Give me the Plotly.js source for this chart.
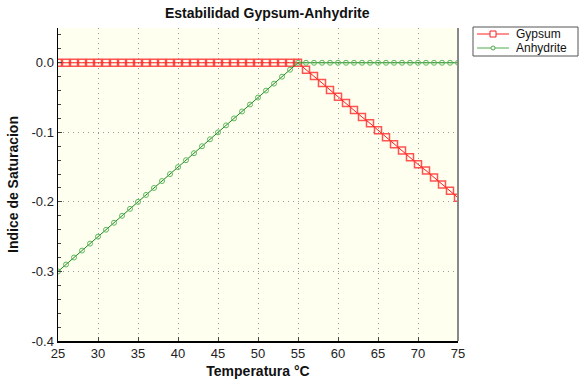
<!DOCTYPE html>
<html><head><meta charset="utf-8">
<script src="https://cdn.plot.ly/plotly-3.0.1.min.js"></script>
<style>html,body{margin:0;padding:0;background:#fff}#chart{width:581px;height:387px}</style>
</head><body><div id="chart"></div>
<script>
const temperatura = [25,26,27,28,29,30,31,32,33,34,35,36,37,38,39,40,41,42,43,44,45,46,47,48,49,50,51,52,53,54,55,56,57,58,59,60,61,62,63,64,65,66,67,68,69,70,71,72,73,74,75];
const gypsum = [0,0,0,0,0,0,0,0,0,0,0,0,0,0,0,0,0,0,0,0,0,0,0,0,0,0,0,0,0,0,0,
  -0.010,-0.019,-0.029,-0.039,-0.049,-0.058,-0.068,-0.078,-0.087,-0.097,-0.107,-0.117,-0.126,-0.136,-0.146,-0.155,-0.165,-0.175,-0.184,-0.194];
const anhydrite = [-0.300,-0.290,-0.280,-0.270,-0.260,-0.250,-0.240,-0.230,-0.220,-0.210,-0.200,-0.190,-0.180,-0.170,-0.160,-0.150,-0.140,-0.130,-0.120,-0.110,-0.100,-0.090,-0.080,-0.070,-0.060,-0.050,-0.040,-0.030,-0.020,-0.010,0,
  0,0,0,0,0,0,0,0,0,0,0,0,0,0,0,0,0,0,0,0];
const xTicks = [25,30,35,40,45,50,55,60,65,70,75];
const yTicks = [0,-0.1,-0.2,-0.3,-0.4];
const seriesNames = ['Gypsum','Anhydrite'];
const lineColors = ['#ff2020','#4caf4c'];

const font = 'Liberation Sans, Arial, sans-serif';
const traces = [
  {x: temperatura, y: gypsum, name: seriesNames[0], mode: 'lines+markers',
   line: {color: lineColors[0], width: 1},
   marker: {symbol: 'square-open', size: 7, color: 'rgba(255,40,40,0.8)', line: {width: 1.5}}},
  {x: temperatura, y: anhydrite, name: seriesNames[1], mode: 'lines+markers',
   line: {color: '#1a8a1a', width: 1},
   marker: {symbol: 'circle-open', size: 5, color: '#5cb85c', line: {width: 1}}}
];

// legend drawn in paper coordinates (plot area: 400 x 313 px, origin at 58,341)
const px = v => (v - 58) / 400, py = v => (341 - v) / 313;
const shapes = [
  {type: 'line', xref: 'paper', yref: 'paper', x0: 1, x1: 1, y0: 0, y1: 1, line: {color: '#888', width: 2}},
  {type: 'rect', xref: 'paper', yref: 'paper', x0: px(473), x1: px(578), y0: py(56), y1: py(27),
   line: {color: '#555', width: 1}, fillcolor: '#fff'}
];
const annotations = [];
seriesNames.forEach((name, i) => {
  const yc = i === 0 ? 34 : 48;
  shapes.push({type: 'line', xref: 'paper', yref: 'paper', x0: px(477), x1: px(509), y0: py(yc), y1: py(yc),
    line: {color: lineColors[i], width: 1}});
  if (i === 0) {
    shapes.push({type: 'rect', xref: 'paper', yref: 'paper', x0: px(490), x1: px(496), y0: py(yc + 3), y1: py(yc - 3),
      line: {color: lineColors[i], width: 1}, fillcolor: '#fff'});
  } else {
    shapes.push({type: 'circle', xref: 'paper', yref: 'paper', x0: px(491), x1: px(495), y0: py(yc + 2), y1: py(yc - 2),
      line: {color: lineColors[i], width: 1}, fillcolor: '#fff'});
  }
  annotations.push({xref: 'paper', yref: 'paper', x: px(515), y: py(yc), xanchor: 'left', yanchor: 'middle',
    text: name, showarrow: false, borderpad: 0, font: {size: 12, color: '#111'}});
});

const layout = {
  width: 581, height: 387,
  margin: {l: 58, r: 123, t: 28, b: 46},
  paper_bgcolor: '#ffffff', plot_bgcolor: '#fffff0',
  font: {family: font, size: 13, color: '#222'},
  title: {text: '<b>Estabilidad Gypsum-Anhydrite</b>', font: {size: 14, color: '#111'}, x: 0.46, xanchor: 'center', y: 0.967, yanchor: 'middle'},
  xaxis: {range: [25, 75], tickvals: xTicks, ticktext: xTicks.map(String), ticks: 'inside', ticklen: 4,
    showgrid: true, gridcolor: '#9a9a9a', griddash: '1px,4px', gridwidth: 1, zeroline: false,
    showline: true, linecolor: '#000', linewidth: 1.5, tickfont: {size: 13},
    title: {text: '<b>Temperatura °C</b>', font: {size: 14, color: '#111'}, standoff: 6}},
  yaxis: {range: [-0.4, 0.05], tickvals: yTicks, ticktext: yTicks.map(v => v.toFixed(1)), ticks: 'inside', ticklen: 4,
    minor: {dtick: 0.02, tick0: 0, ticks: 'inside', ticklen: 3, showgrid: false},
    showgrid: true, gridcolor: '#9a9a9a', griddash: '1px,4px', gridwidth: 1, zeroline: false,
    showline: true, linecolor: '#000', linewidth: 1.5, tickfont: {size: 13},
    title: {text: '<b>Indice de Saturacion</b>', font: {size: 14, color: '#111'}, standoff: 9}},
  shapes: shapes,
  annotations: annotations,
  showlegend: false
};
Plotly.newPlot('chart', traces, layout, {displayModeBar: false, staticPlot: true});
</script></body></html>
